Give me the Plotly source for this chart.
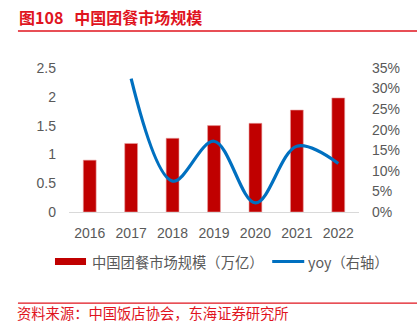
import plotly.graph_objects as go

years = ["2016", "2017", "2018", "2019", "2020", "2021", "2022"]
market = [0.90, 1.19, 1.28, 1.50, 1.54, 1.77, 1.98]
yoy = [None, 32.4, 7.5, 17.2, 2.2, 16.0, 11.8]

bar_name = "中国团餐市场规模（万亿）"
line_name = "yoy（右轴）"
title_num = "图108"
title_text = "中国团餐市场规模"
source_text = "资料来源：中国饭店协会，东海证券研究所"

W, H = 417, 323
L, R, T, B = 69, 358.7, 68, 211.7
pw, ph = R - L, B - T


def px(x):
    return (x - L) / pw


def py(y):
    return (B - y) / ph


red = "#E0141E"
gray = "#595959"
cjk = "Noto Sans CJK SC, Liberation Sans, Arial"
latin = "Liberation Sans, Arial"

fig = go.Figure()
fig.add_trace(go.Bar(x=years, y=market, name=bar_name,
                     marker=dict(color="#C00000", line=dict(color="#E8A0A0", width=0.6)),
                     showlegend=False))
fig.add_trace(go.Scatter(x=years, y=yoy, name=line_name, yaxis="y2", mode="lines",
                         line=dict(color="#0070C0", width=3.2, shape="spline", smoothing=1.0),
                         showlegend=False))

shapes = [
    dict(type="line", xref="paper", yref="paper", x0=px(18), x1=px(417), y0=py(31), y1=py(31),
         line=dict(color=red, width=1.5)),
    dict(type="line", xref="paper", yref="paper", x0=px(18), x1=px(417), y0=py(302.7), y1=py(302.7),
         line=dict(color=red, width=1.2)),
    dict(type="rect", xref="paper", yref="paper", x0=px(55), x1=px(86), y0=py(264.5), y1=py(257.5),
         fillcolor="#C00000", line=dict(width=0)),
    dict(type="line", xref="paper", yref="paper", x0=px(272), x1=px(304), y0=py(261), y1=py(261),
         line=dict(color="#0070C0", width=3)),
]

annotations = [
    dict(text="<b>" + title_num + "&nbsp;&nbsp;&nbsp;" + title_text + "</b>", xref="paper", yref="paper",
         x=px(17.5), y=py(16.7),
         xanchor="left", yanchor="middle", showarrow=False,
         font=dict(family=cjk, size=16, color=red)),
    dict(text=source_text, xref="paper", yref="paper", x=px(16.5), y=py(323), borderpad=0,
         xanchor="left", yanchor="bottom", showarrow=False,
         font=dict(family=cjk, size=14.3, color=red)),
    dict(text=bar_name, xref="paper", yref="paper", x=px(90), y=py(261),
         xanchor="left", yanchor="middle", showarrow=False,
         font=dict(family=cjk, size=14.3, color=gray)),
    dict(text=line_name, xref="paper", yref="paper", x=px(305.5), y=py(261),
         xanchor="left", yanchor="middle", showarrow=False,
         font=dict(family=cjk, size=14.3, color=gray)),
]

fig.update_layout(
    width=W, height=H,
    margin=dict(l=L, r=W - R, t=T, b=H - B, pad=0),
    paper_bgcolor="white", plot_bgcolor="white",
    bargap=0.69,
    showlegend=False,
    font=dict(family=latin, size=14, color=gray),
    xaxis=dict(type="category", showgrid=False, showline=True, linecolor="#D9D9D9", linewidth=1.2,
               ticks="outside", ticklen=0, tickcolor="rgba(0,0,0,0)",
               ticklabelstandoff=8, tickfont=dict(size=14, color=gray)),
    yaxis=dict(range=[0, 2.5], dtick=0.5, showgrid=False, zeroline=False, showline=False,
               tickformat="~g", ticklabelstandoff=12, tickfont=dict(size=14, color=gray)),
    yaxis2=dict(range=[0, 35], dtick=5, overlaying="y", side="right", showgrid=False,
                zeroline=False, showline=False, ticksuffix="%", ticklabelstandoff=12,
                tickfont=dict(size=14, color=gray)),
    shapes=shapes,
    annotations=annotations,
)

fig.write_html("out.html")
